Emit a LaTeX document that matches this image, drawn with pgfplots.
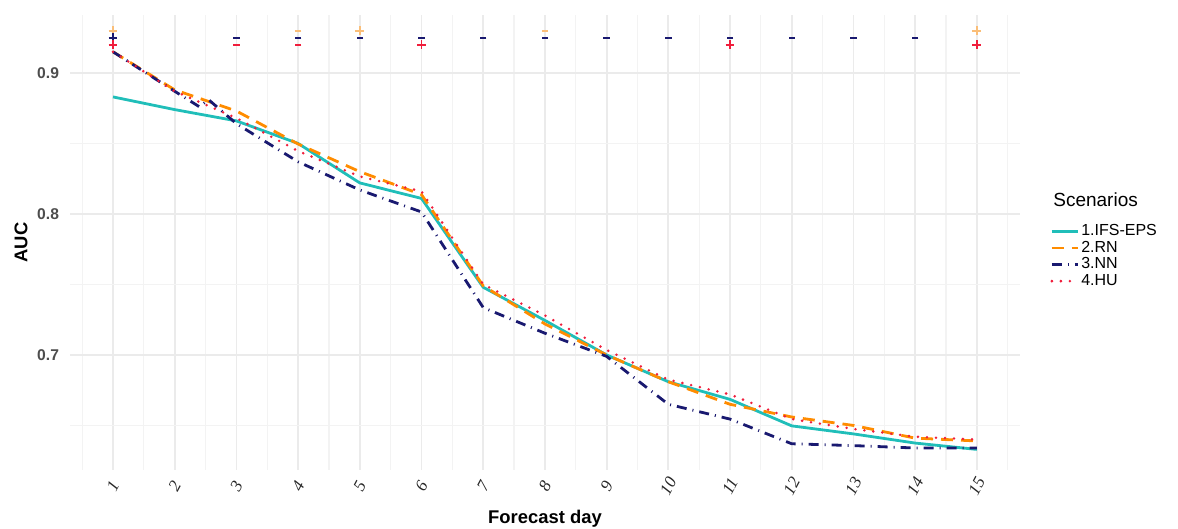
\documentclass[border=0pt]{standalone}
\usepackage{pgfplots}
\pgfplotsset{compat=1.18}
\usepackage{fontspec}
\setmainfont{Liberation Sans}
\newfontfamily\tickserif{Liberation Serif}
\definecolor{cIFS}{RGB}{32,190,185}
\definecolor{cRN}{RGB}{255,140,0}
\definecolor{cRNl}{RGB}{250,190,120}
\definecolor{cNN}{RGB}{25,25,112}
\definecolor{cHU}{RGB}{240,30,60}
\definecolor{tickgray}{RGB}{77,77,77}
\definecolor{gridgray}{RGB}{235,235,235}
\begin{document}
\begin{tikzpicture}
\begin{axis}[
  scale only axis, width=475pt, height=227.5pt,
  xmin=0.303, xmax=15.7, ymin=0.6184, ymax=0.9411,
  clip=false,
  axis line style={draw=none}, tick style={draw=none},
  xtick={1,...,15}, ytick={0.7,0.8,0.9},
  minor xtick={0.5,1.5,...,15.5}, minor ytick={0.65,0.75,0.85},
  yticklabels={0.7,0.8,0.9},
  grid=both,
  major grid style={draw=gridgray, line width=0.9pt},
  minor grid style={draw=gridgray!60, line width=0.6pt},
  yticklabel style={font=\fontsize{7.8}{8}\selectfont\bfseries, text=tickgray, xshift=-2pt},
  xticklabel style={font=\fontsize{8.5}{9}\selectfont\tickserif\itshape, text=black!85,
     rotate=62, anchor=center},
  xticklabel shift=8pt,
  /pgf/number format/assume math mode=true,
  xlabel={Forecast day}, ylabel={AUC},
  label style={font=\fontsize{9.2}{10}\selectfont\bfseries},
  xlabel style={yshift=1pt},
  ylabel style={yshift=-2pt},
  legend style={draw=none, fill=none, at={(1.0317,0.545)}, anchor=north west,
    font=\fontsize{8}{8}\selectfont, row sep=-0.8pt, cells={anchor=west},
    inner sep=0pt, nodes={inner sep=1pt}},
  legend image code/.code={\draw[#1] (0pt,0pt) -- (8pt,0pt); \path (0pt,0pt) -- (13pt,0pt);},
]
\addplot[cIFS, line width=1.4pt] coordinates {
(1,0.883)(2,0.874)(3,0.866)(4,0.850)(5,0.822)(6,0.811)(7,0.748)(8,0.7245)(9,0.700)(10,0.681)(11,0.6685)(12,0.6497)(13,0.644)(14,0.6375)(15,0.633)};
\addlegendentry{1.IFS-EPS}
\addplot[cRN, line width=1.4pt, dash pattern=on 6pt off 4pt] coordinates {
(1,0.915)(2,0.888)(3,0.873)(4,0.8496)(5,0.830)(6,0.8137)(7,0.749)(8,0.722)(9,0.700)(10,0.681)(11,0.665)(12,0.656)(13,0.650)(14,0.641)(15,0.639)};
\addlegendentry{2.RN}
\addplot[cNN, line width=1.4pt, dash pattern=on 5pt off 3pt on 0.5pt off 3pt] coordinates {
(1,0.915)(2,0.887)(2.4,0.876)(2.55,0.881)(3,0.864)(4,0.837)(5,0.817)(6,0.8014)(7,0.7336)(8,0.7154)(9,0.699)(10,0.665)(11,0.6545)(12,0.637)(13,0.6357)(14,0.634)(15,0.634)};
\addlegendentry{3.NN}
\addplot[cHU, line width=1.4pt, line cap=round, dash pattern=on 0pt off 4.5pt] coordinates {
(1,0.915)(2,0.887)(3,0.868)(4,0.8446)(5,0.8266)(6,0.816)(7,0.750)(8,0.728)(9,0.7035)(10,0.6825)(11,0.672)(12,0.6545)(13,0.6475)(14,0.642)(15,0.640)};
\addlegendentry{4.HU}
% significance markers
\addplot[only marks, mark=+, mark size=2.2pt, cRNl, line width=0.9pt, forget plot] coordinates {(1,0.930)(5,0.930)(15,0.930)};
\addplot[only marks, mark=-, mark size=1.6pt, cRNl, line width=1pt, forget plot] coordinates {(4,0.930)(8,0.930)};
\addplot[only marks, mark=+, mark size=2.2pt, cNN, line width=0.9pt, forget plot] coordinates {(1,0.925)};
\addplot[only marks, mark=-, mark size=1.6pt, cNN, line width=1.1pt, forget plot] coordinates {(3,0.925)(4,0.925)(5,0.925)(6,0.925)(7,0.925)(8,0.925)(9,0.925)(10,0.925)(11,0.925)(12,0.925)(13,0.925)(14,0.925)};
\addplot[only marks, mark=+, mark size=2.2pt, cHU, line width=0.9pt, forget plot] coordinates {(1,0.920)(6,0.920)(11,0.920)(15,0.920)};
\addplot[only marks, mark=-, mark size=1.6pt, cHU, line width=1pt, forget plot] coordinates {(3,0.920)(4,0.920)};
\node[anchor=west, font=\fontsize{9.5}{10}\selectfont, inner sep=0pt] at (rel axis cs:1.0347,0.593) {Scenarios};
\end{axis}
\pgfresetboundingbox
\path (-35pt,-29.5pt) rectangle (554pt,235pt);
\end{tikzpicture}
\end{document}
